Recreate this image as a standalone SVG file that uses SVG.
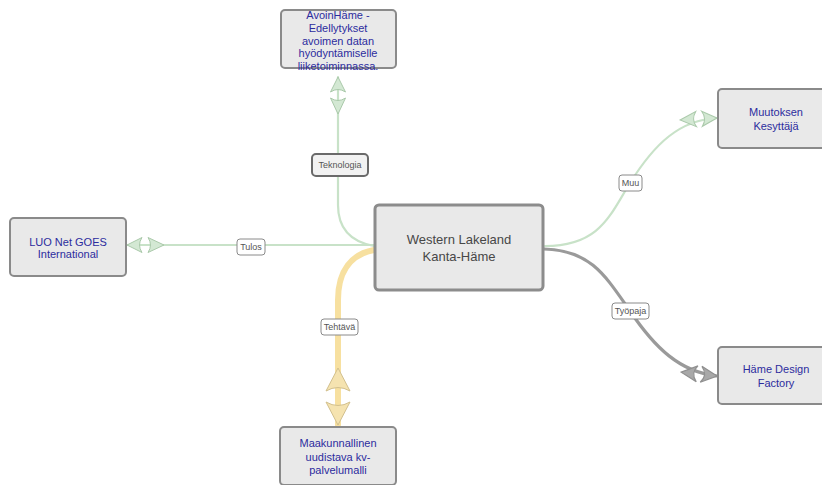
<svg xmlns="http://www.w3.org/2000/svg" width="822" height="485" viewBox="0 0 822 485">
<style>
.node rect{fill:#e9e9e9;stroke:#8a8a8a;stroke-width:2}
.node text{font-family:"Liberation Sans",Arial,sans-serif;font-size:11px;fill:#2c2c9e;text-anchor:middle}
#center rect{stroke-width:3;stroke:#8c8c8c}
#center text{font-size:13px;fill:#474747}
.edge{fill:none;stroke-linecap:round}
.g{stroke:#c8e2c8;stroke-width:2.2}
.k{stroke:#9a9a9a;stroke-width:3.2}
.y{stroke:#f7e0a0;stroke-width:6}
.lbl rect{fill:#fff;stroke:#8a8a8a;stroke-width:1}
.lbl text{font-family:"Liberation Sans",Arial,sans-serif;font-size:9px;fill:#555;text-anchor:middle}
</style>
<defs>
<marker id="mg" markerUnits="userSpaceOnUse" viewBox="-42 -12 44 24" refX="0" refY="0" markerWidth="44" markerHeight="24" orient="auto" overflow="visible">
<path d="M0,0 L-15,-7.5 Q-10,0 -15,7.5 Z M-37,0 L-21,-7.5 Q-26,0 -21,7.5 Z" fill="#d3e8d3" stroke="#aac9aa" stroke-width="1"/>
</marker>
<marker id="mk" markerUnits="userSpaceOnUse" viewBox="-42 -12 44 24" refX="0" refY="0" markerWidth="44" markerHeight="24" orient="auto" overflow="visible">
<path d="M0,0 L-16,-8 Q-9,0 -16,8 Z M-36,0 L-20,-8 Q-27,0 -20,8 Z" fill="#a8a8a8" stroke="#909090" stroke-width="1.2"/>
</marker>
<marker id="my" markerUnits="userSpaceOnUse" viewBox="-62 -14 64 28" refX="0" refY="0" markerWidth="64" markerHeight="28" orient="auto" overflow="visible">
<path d="M0,0 L-23,-12 Q-16,0 -23,12 Z M-57,0 L-34,-12 Q-41,0 -34,12 Z" fill="#f5e3b0" stroke="#d2c08e" stroke-width="1"/>
</marker>
</defs>
<g id="connectors">
<path class="edge g" d="M374 246 C352 242 338 230 338 205 L338 77" marker-end="url(#mg)"/>
<path class="edge g" d="M374 245 L127 245" marker-end="url(#mg)"/>
<path class="edge g" d="M545 246 C600 246 610 215 630 183 C655 143 680 120 717 118" marker-end="url(#mg)"/>
<path class="edge k" d="M544 249 C590 250 605 275 630 311 C655 348 680 372 717 376" marker-end="url(#mk)"/>
<path class="edge y" d="M374 250 C352 254 338 270 338 300 L338 425" marker-end="url(#my)"/>
<g class="lbl"><rect x="312" y="154" width="56" height="22" rx="4" style="stroke:#6a6a6a;stroke-width:2;fill:#f2f2f2"/><text x="340" y="168">Teknologia</text></g>
<g class="lbl"><rect x="237" y="239" width="28" height="16" rx="3"/><text x="251" y="250">Tulos</text></g>
<g class="lbl"><rect x="619" y="175" width="23" height="16" rx="3"/><text x="630.5" y="186">Muu</text></g>
<g class="lbl"><rect x="612" y="303" width="37" height="16" rx="3"/><text x="630.5" y="314">Työpaja</text></g>
<g class="lbl"><rect x="321" y="319" width="37" height="16" rx="3"/><text x="339.5" y="330">Tehtävä</text></g>
</g>
<g id="avoin" class="node"><rect x="281" y="10" width="115" height="58" rx="4"/>
<text x="338"><tspan x="338" y="19">AvoinHäme -</tspan><tspan x="338" y="32">Edellytykset</tspan><tspan x="338" y="45">avoimen datan</tspan><tspan x="338" y="57">hyödyntämiselle</tspan><tspan x="338" y="70">liiketoiminnassa.</tspan></text></g>
<g id="luo" class="node"><rect x="10" y="218" width="116" height="58" rx="4"/>
<text><tspan x="68" y="246">LUO Net GOES</tspan><tspan x="68" y="258">International</tspan></text></g>
<g id="center" class="node"><rect x="375" y="205" width="168" height="85" rx="4"/>
<text><tspan x="459" y="244">Western Lakeland</tspan><tspan x="459" y="261">Kanta-Häme</tspan></text></g>
<g id="muutos" class="node"><rect x="718" y="89" width="116" height="59" rx="4"/>
<text><tspan x="776" y="116">Muutoksen</tspan><tspan x="776" y="130">Kesyttäjä</tspan></text></g>
<g id="hdf" class="node"><rect x="718" y="347" width="116" height="57" rx="4"/>
<text><tspan x="776" y="373">Häme Design</tspan><tspan x="776" y="387">Factory</tspan></text></g>
<g id="maak" class="node"><rect x="280" y="427" width="116" height="58" rx="4"/>
<text><tspan x="338" y="447">Maakunnallinen</tspan><tspan x="338" y="461">uudistava kv-</tspan><tspan x="338" y="474">palvelumalli</tspan></text></g>
</svg>
